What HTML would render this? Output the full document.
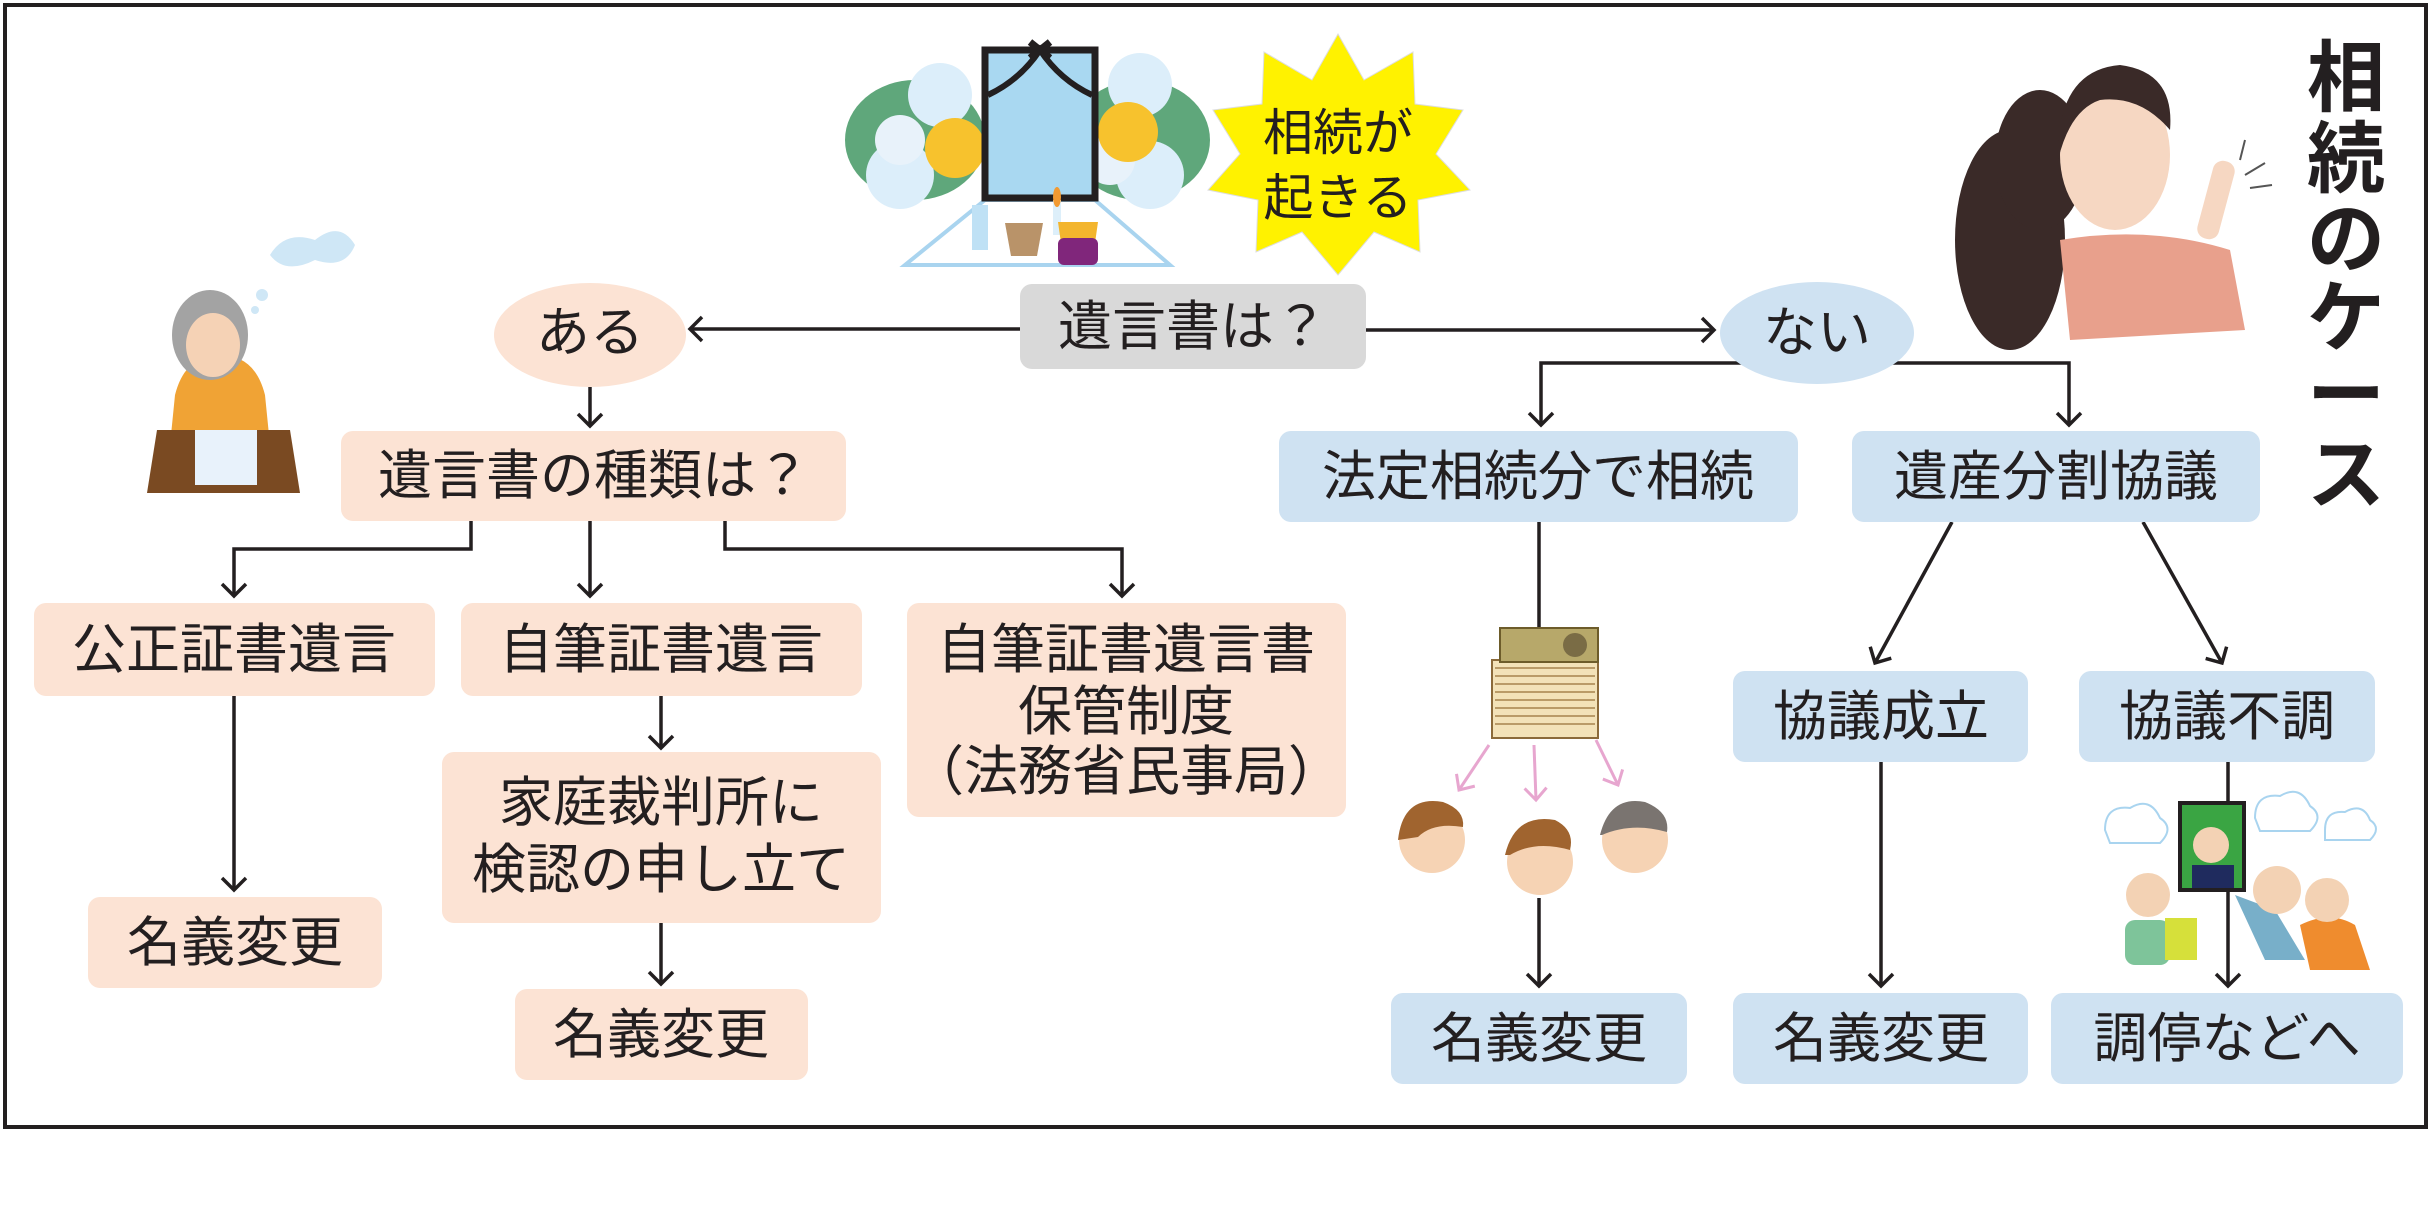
<!DOCTYPE html>
<html><head><meta charset="utf-8"><style>
html,body{margin:0;padding:0;background:#fff}
svg{display:block}
text{font-family:"Liberation Sans","Noto Sans CJK JP",sans-serif;fill:#231f20}
</style></head><body>
<svg width="2434" height="1223" viewBox="0 0 2434 1223" xmlns="http://www.w3.org/2000/svg">
<rect x="5" y="5" width="2421" height="1122" fill="#fff" stroke="#231f20" stroke-width="4"/>
<defs>
<marker id="a" markerWidth="30" markerHeight="30" refX="15" refY="15" orient="auto" markerUnits="userSpaceOnUse">
<path d="M3,3 L15,15 L3,27" fill="none" stroke="#231f20" stroke-width="3.5"/></marker>
<marker id="p" markerWidth="30" markerHeight="30" refX="15" refY="15" orient="auto" markerUnits="userSpaceOnUse">
<path d="M3,4 L15,15 L3,26" fill="none" stroke="#e7a6cf" stroke-width="3"/></marker>
</defs>

<!-- funeral altar -->
<g>
<ellipse cx="915" cy="140" rx="70" ry="60" fill="#5fa77b"/>
<ellipse cx="1140" cy="140" rx="70" ry="60" fill="#5fa77b"/>
<circle cx="940" cy="95" r="32" fill="#dceefa"/><circle cx="900" cy="175" r="34" fill="#dceefa"/>
<circle cx="900" cy="140" r="25" fill="#e8f2fa"/>
<circle cx="955" cy="148" r="30" fill="#f7c22d"/>
<circle cx="1140" cy="85" r="32" fill="#dceefa"/><circle cx="1150" cy="175" r="34" fill="#dceefa"/>
<circle cx="1110" cy="160" r="25" fill="#e8f2fa"/>
<circle cx="1128" cy="132" r="30" fill="#f7c22d"/>
<polygon points="985,200 1095,200 1170,265 905,265" fill="#fff" stroke="#a9d4ef" stroke-width="4"/>
<rect x="985" y="50" width="110" height="148" fill="#a9d8f1" stroke="#231f20" stroke-width="7"/>
<path d="M988,95 Q1020,80 1040,50 Q1060,80 1092,95" fill="none" stroke="#231f20" stroke-width="6"/>
<path d="M1030,42 L1050,58 M1050,42 L1030,58" stroke="#231f20" stroke-width="7"/>
<rect x="972" y="205" width="16" height="45" fill="#bfe1f5"/>
<path d="M1005,223 h38 l-6,33 h-26z" fill="#b99369"/>
<rect x="1053" y="200" width="8" height="35" fill="#ddeffa"/>
<ellipse cx="1057" cy="197" rx="4" ry="10" fill="#f29a32"/>
<path d="M1058,222 h40 l-4,28 h-32z" fill="#f3b52e"/>
<rect x="1058" y="238" width="40" height="27" rx="6" fill="#80267b"/>
</g>
<!-- starburst -->
<polygon fill="#fff200" stroke="#ddd" stroke-width="1" points="
1338,34 1364,80 1413,52 1415,104 1463,110 1436,154 1470,190 1418,200 1420,252 1374,232 1338,275 1302,232 1256,252 1258,200 1208,190 1240,154 1213,110 1262,104 1264,52 1312,80"/>
<text x="1338" y="133" font-size="50" text-anchor="middle" dominant-baseline="central">相続が</text>
<text x="1338" y="198" font-size="50" text-anchor="middle" dominant-baseline="central">起きる</text>

<!-- woman top right -->
<g>
<ellipse cx="2010" cy="240" rx="55" ry="110" fill="#3a2a28"/>
<ellipse cx="2040" cy="160" rx="45" ry="70" fill="#3a2a28"/>
<path d="M2060,240 Q2150,225 2230,250 L2245,330 L2070,340 Z" fill="#e8a08c"/>
<ellipse cx="2115" cy="155" rx="55" ry="75" fill="#f6d7c2"/>
<path d="M2058,150 Q2060,70 2120,65 Q2175,72 2170,130 Q2140,95 2100,100 Q2070,110 2058,160z" fill="#3a2a28"/>
<rect x="2205" y="160" width="22" height="80" rx="10" fill="#f6d7c2" transform="rotate(15 2216 200)"/>
<path d="M2245,175 l20,-12 M2250,188 l22,-3 M2240,160 l5,-20" stroke="#555" stroke-width="2"/>
</g>
<text font-size="78" font-weight="bold" text-anchor="middle">
<tspan x="2346" y="105">相</tspan><tspan x="2346" y="186">続</tspan><tspan x="2346" y="266">の</tspan><tspan x="2346" y="345">ケ</tspan><tspan x="2346" y="422">ー</tspan><tspan x="2346" y="502">ス</tspan>
</text>

<!-- old woman -->
<g>
<path d="M270,255 q15,-25 45,-15 q25,-20 40,5 q-10,25 -40,15 q-30,15 -45,-5z" fill="#cfe7f6"/>
<circle cx="262" cy="295" r="6" fill="#cfe7f6"/><circle cx="255" cy="310" r="4" fill="#cfe7f6"/>
<path d="M175,395 q10,-40 45,-40 q35,0 45,40 l5,50 h-100z" fill="#f0a335"/>
<ellipse cx="210" cy="335" rx="38" ry="45" fill="#a3a3a3"/>
<ellipse cx="213" cy="345" rx="27" ry="32" fill="#f5d2b5"/>
<polygon points="157,430 290,430 300,493 147,493" fill="#7a4a22"/>
<rect x="195" y="430" width="62" height="55" fill="#e8f2fb"/>
</g>

<!-- connectors left -->
<g stroke="#231f20" stroke-width="3.5" fill="none">
<line x1="1020" y1="329" x2="690" y2="329" marker-end="url(#a)"/>
<line x1="590" y1="387" x2="590" y2="426" marker-end="url(#a)"/>
<path d="M471,521 V549 H234 V596" marker-end="url(#a)"/>
<line x1="590" y1="521" x2="590" y2="596" marker-end="url(#a)"/>
<path d="M725,521 V549 H1122 V596" marker-end="url(#a)"/>
<line x1="234" y1="696" x2="234" y2="890" marker-end="url(#a)"/>
<line x1="661" y1="696" x2="661" y2="748" marker-end="url(#a)"/>
<line x1="661" y1="923" x2="661" y2="984" marker-end="url(#a)"/>
<line x1="1366" y1="330" x2="1714" y2="330" marker-end="url(#a)"/>
<path d="M1760,363 H1541 V425" marker-end="url(#a)"/>
<path d="M1880,363 H2069 V425" marker-end="url(#a)"/>
<line x1="1539" y1="522" x2="1539" y2="627"/>
<line x1="1539" y1="898" x2="1539" y2="986" marker-end="url(#a)"/>
<line x1="1952" y1="522" x2="1875" y2="663" marker-end="url(#a)"/>
<line x1="2143" y1="522" x2="2222" y2="663" marker-end="url(#a)"/>
<line x1="1881" y1="762" x2="1881" y2="986" marker-end="url(#a)"/>
<line x1="2228" y1="762" x2="2228" y2="986" marker-end="url(#a)"/>
</g>

<g fill="#fce3d4">
<ellipse cx="590" cy="335" rx="96" ry="52"/>
<rect x="341" y="431" width="505" height="90" rx="12"/>
<rect x="34" y="603" width="401" height="93" rx="12"/>
<rect x="461" y="603" width="401" height="93" rx="12"/>
<rect x="907" y="603" width="439" height="214" rx="12"/>
<rect x="442" y="752" width="439" height="171" rx="12"/>
<rect x="88" y="897" width="294" height="91" rx="12"/>
<rect x="515" y="989" width="293" height="91" rx="12"/>
</g>
<rect x="1020" y="284" width="346" height="85" rx="12" fill="#d9d9d9"/>
<g fill="#cfe2f2">
<ellipse cx="1817" cy="333" rx="97" ry="51"/>
<rect x="1279" y="431" width="519" height="91" rx="12"/>
<rect x="1852" y="431" width="408" height="91" rx="12"/>
<rect x="1733" y="671" width="295" height="91" rx="12"/>
<rect x="2079" y="671" width="296" height="91" rx="12"/>
<rect x="1391" y="993" width="296" height="91" rx="12"/>
<rect x="1733" y="993" width="295" height="91" rx="12"/>
<rect x="2051" y="993" width="352" height="91" rx="12"/>
</g>

<g font-size="54" text-anchor="middle" dominant-baseline="central">
<text x="1193" y="327">遺言書は？</text>
<text x="590" y="333">ある</text>
<text x="1817" y="333">ない</text>
<text x="594" y="476">遺言書の種類は？</text>
<text x="234" y="650">公正証書遺言</text>
<text x="661" y="650">自筆証書遺言</text>
<text x="1126" y="650">自筆証書遺言書</text>
<text x="1126" y="712">保管制度</text>
<text x="1126" y="772">（法務省民事局）</text>
<text x="661" y="803">家庭裁判所に</text>
<text x="661" y="870">検認の申し立て</text>
<text x="235" y="943">名義変更</text>
<text x="661" y="1035">名義変更</text>
<text x="1538" y="477">法定相続分で相続</text>
<text x="2056" y="477">遺産分割協議</text>
<text x="1881" y="717">協議成立</text>
<text x="2227" y="717">協議不調</text>
<text x="1539" y="1039">名義変更</text>
<text x="1881" y="1039">名義変更</text>
<text x="2227" y="1039">調停などへ</text>
</g>

<g>
<rect x="1492" y="660" width="106" height="78" fill="#f3e2b8" stroke="#8b6a3a" stroke-width="2"/>
<path d="M1495,668h100M1495,676h100M1495,684h100M1495,692h100M1495,700h100M1495,708h100M1495,716h100M1495,724h100" stroke="#a7834d" stroke-width="1.5"/>
<rect x="1500" y="628" width="98" height="34" fill="#b7a86a" stroke="#6d5c2a" stroke-width="2"/>
<circle cx="1575" cy="645" r="12" fill="#7a6c45"/>
<g stroke="#e7a6cf" stroke-width="3" fill="none">
<line x1="1489" y1="745" x2="1459" y2="790" marker-end="url(#p)"/>
<line x1="1534" y1="745" x2="1536" y2="800" marker-end="url(#p)"/>
<line x1="1596" y1="740" x2="1618" y2="785" marker-end="url(#p)"/>
</g>
<circle cx="1432" cy="840" r="33" fill="#f6d3b4"/><path d="M1398,840 q5,-45 45,-38 q22,8 20,25 q-30,-5 -45,10z" fill="#a0642f"/>
<circle cx="1540" cy="862" r="33" fill="#f6d3b4"/><path d="M1505,855 q10,-42 50,-35 q20,10 15,30 q-35,-10 -60,5z" fill="#a0642f"/>
<circle cx="1635" cy="840" r="33" fill="#f6d3b4"/><path d="M1600,835 q10,-40 45,-33 q25,10 22,30 q-35,-10 -65,3z" fill="#7a7470"/>
</g>

<g>
<path d="M2105,830 q0,-25 25,-22 q20,-12 30,10 q15,10 0,25 h-50z" fill="none" stroke="#a9d4ef" stroke-width="2"/>
<path d="M2255,818 q0,-25 25,-22 q20,-12 30,10 q15,10 0,25 h-50z" fill="none" stroke="#a9d4ef" stroke-width="2"/>
<path d="M2325,830 q0,-20 20,-18 q18,-10 25,8 q12,8 0,20 h-45z" fill="none" stroke="#a9d4ef" stroke-width="2"/>
<rect x="2180" y="803" width="64" height="87" fill="#3aa543" stroke="#231f20" stroke-width="4"/>
<circle cx="2211" cy="845" r="18" fill="#f3d2b4"/>
<rect x="2192" y="865" width="42" height="23" fill="#1f2b5e"/>
<rect x="2125" y="920" width="45" height="45" rx="10" fill="#7ec49a"/>
<circle cx="2148" cy="895" r="22" fill="#f3d2b4"/>
<rect x="2165" y="918" width="32" height="42" fill="#d6e03a"/>
<path d="M2235,895 l40,15 l30,50 h-40z" fill="#78afc9"/>
<circle cx="2277" cy="890" r="24" fill="#f3d2b4"/>
<path d="M2300,925 q30,-15 55,0 l15,45 h-60z" fill="#ef8c2e"/>
<circle cx="2327" cy="900" r="22" fill="#f3d2b4"/>
</g>
</svg>
</body></html>
